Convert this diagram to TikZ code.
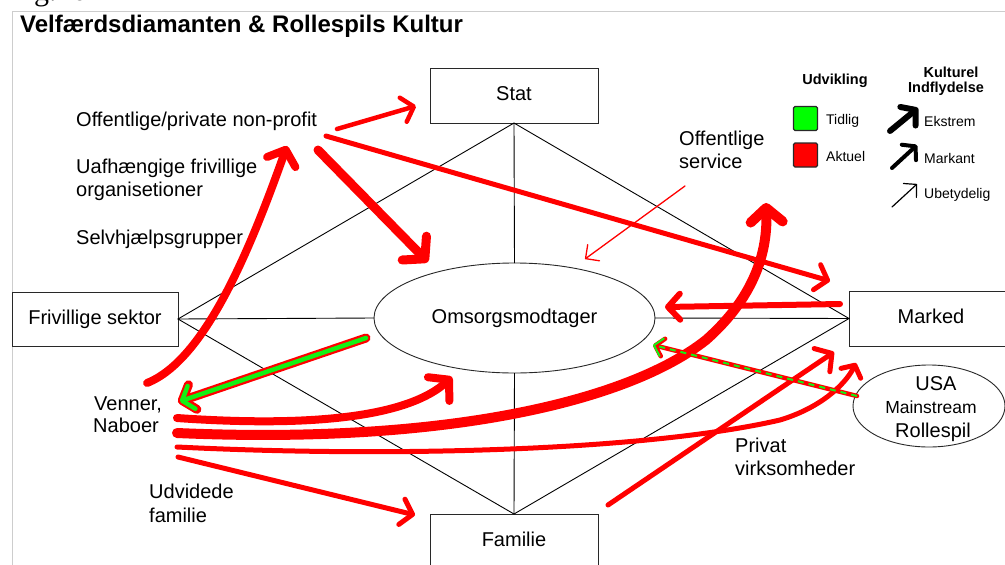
\documentclass[tikz,border=0pt]{standalone}
\usepackage{fontspec}
\setmainfont{Liberation Sans}
\newfontfamily\figserif{Liberation Serif}
\usetikzlibrary{arrows.meta,shapes.geometric,calc}

\definecolor{vred}{RGB}{255,0,0}
\definecolor{vgreen}{RGB}{20,240,20}
\definecolor{sqgreen}{RGB}{0,255,0}
\definecolor{framegray}{RGB}{205,205,205}
\definecolor{edge}{RGB}{40,40,40}

\begin{document}
\begin{tikzpicture}[x=1pt,y=-1pt,
  box/.style={draw=edge, line width=1pt, minimum width=168pt, minimum height=55pt,
    inner sep=0pt, outer sep=0pt, font=\fontsize{20}{24}\selectfont,
    text height=14pt, text depth=4pt},
  oval/.style={draw=edge, line width=0.9pt, ellipse, inner sep=0pt, outer sep=0pt},
  diag/.style={draw=black, line width=0.9pt},
  lbl/.style={anchor=base west, inner sep=0pt, font=\fontsize{20}{24}\selectfont},
  leg/.style={anchor=base west, inner sep=0pt, font=\fontsize{14}{17}\selectfont},
  legb/.style={anchor=base, inner sep=0pt, font=\fontsize{14.5}{17}\selectfont\bfseries},
  flow/.style args={#1/#2/#3}{draw=vred, line width=#1pt, line cap=round, line join=round,
    -{Straight Barb[length=#2pt, width=#3pt, round]}},
  flowk/.style args={#1/#2/#3}{draw=black, line width=#1pt, line cap=round, line join=round,
    -{Straight Barb[length=#2pt, width=#3pt, round]}},
  swatch/.style={draw=edge, line width=1.2pt, rounded corners=1.5pt,
    minimum width=24pt, minimum height=24pt, inner sep=0pt},
]
\useasboundingbox (0,0) rectangle (1005,565);
\clip (0,0) rectangle (1005,565);
\fill[white] (0,0) rectangle (1005,565);

% page frame and caption above it
\node[anchor=base west, inner sep=0pt, font=\figserif\fontsize{30}{30}\selectfont] (fig) at (9,0) {Fig.26};
\draw[framegray, line width=1pt] (1010,11) -- (12,11) -- (12,570);

% title
\node[anchor=base west, inner sep=0pt, font=\fontsize{24}{28}\selectfont\bfseries] (title) at (20,32)
  {Velfærdsdiamanten \& Rollespils Kultur};

% the four sectors and the care receiver
\node[box] (stat) at (514,95.5) {Stat};
\node[box, minimum width=166pt, minimum height=54pt] (friv) at (95,319) {Frivillige sektor};
\node[box, minimum width=164pt] (marked) at (931,318.5) {Marked};
\node[box] (familie) at (514,541.5) {Familie};
\node[oval, minimum width=281pt, minimum height=110pt, font=\fontsize{20}{24}\selectfont,
  text height=14pt, text depth=4pt] (omsorg) at (514.5,318) {Omsorgsmodtager};
\node[oval, minimum width=152pt, minimum height=82pt] (usa) at (929,406) {};
\node[anchor=base, inner sep=0pt, font=\fontsize{20}{24}\selectfont] (usa1) at (936,390) {USA};
\node[anchor=base, inner sep=0pt, font=\fontsize{17.5}{20}\selectfont] (usa2) at (931,413) {Mainstream};
\node[anchor=base, inner sep=0pt, font=\fontsize{20}{24}\selectfont] (usa3) at (933,437) {Rollespil};

% diamond
\draw[diag] (friv.east) -- (stat.south) -- (marked.west) -- (familie.north) -- cycle;
\draw[diag] (stat.south) -- (omsorg.north);
\draw[diag] (omsorg.south) -- (familie.north);
\draw[diag] (friv.east) -- (omsorg.west);
\draw[diag] (omsorg.east) -- (marked.west);

% sector labels
\node[lbl] (offpriv) at (76,126) {Offentlige/private non-profit};
\node[lbl] (uafh1) at (76,173) {Uafhængige frivillige};
\node[lbl] (uafh2) at (76,196) {organisetioner};
\node[lbl] (selvh) at (76,244) {Selvhjælpsgrupper};
\node[lbl] (venner1) at (94,410) {Venner,};
\node[lbl] (venner2) at (93,432) {Naboer};
\node[lbl] (udv1) at (149,498) {Udvidede};
\node[lbl] (udv2) at (149,522) {familie};
\node[lbl] (offserv1) at (679,145) {Offentlige};
\node[lbl] (offserv2) at (679,168) {service};
\node[lbl] (privat1) at (735,452) {Privat};
\node[lbl] (privat2) at (735,475) {virksomheder};

% legend
\node[legb] (udvikling) at (835,84) {Udvikling};
\node[swatch, fill=sqgreen] (sqtidlig) at (805.5,118.5) {};
\node[swatch, fill=vred] (sqaktuel) at (805.5,155) {};
\node[leg] (tidlig) at (826,124) {Tidlig};
\node[leg] (aktuel) at (826,161) {Aktuel};
\node[legb] (kulturel) at (951,77) {Kulturel};
\node[legb] (indfl) at (946,92) {Indflydelse};
\node[leg] (ekstrem) at (924,126) {Ekstrem};
\node[leg] (markant) at (924,163) {Markant};
\node[leg] (ubet) at (924,198) {Ubetydelig};
\coordinate (ek-s) at (890,131);  \coordinate (ek-e) at (918,108);
\coordinate (ma-s) at (892,168);  \coordinate (ma-e) at (917,145);
\coordinate (ub-s) at (892,207);  \coordinate (ub-e) at (917,184);
\draw[flowk=6/10/24] (ek-s) -- (ek-e);
\draw[flowk=4/9/21] (ma-s) -- (ma-e);
\draw[flowk=1.2/9/19] (ub-s) -- (ub-e);

% connector end points
\coordinate (np-stat-s) at (337,129);  \coordinate (np-stat-e) at (416,106);
\coordinate (np-mkt-s)  at (326,136);  \coordinate (np-mkt-e)  at (830,281);
\coordinate (np-oms-s)  at (318,150);  \coordinate (np-oms-e)  at (428,262);
\coordinate (vn-np-s)   at (147,383);  \coordinate (vn-np-e)   at (287,146);
\coordinate (oms-vn-s)  at (366,338);  \coordinate (oms-vn-e)  at (178,402);
\coordinate (vn-oms-s)  at (177,418);  \coordinate (vn-oms-e)  at (452,377);
\coordinate (vn-srv-s)  at (177,433);  \coordinate (vn-srv-m)  at (706,340);
\coordinate (vn-srv-e)  at (766,203);
\coordinate (vn-mkt-s)  at (177,447);  \coordinate (vn-mkt-m)  at (780,420);
\coordinate (vn-mkt-e)  at (856,363);
\coordinate (vn-fam-s)  at (178,457);  \coordinate (vn-fam-e)  at (415,515);
\coordinate (pv-mkt-s)  at (608,505);  \coordinate (pv-mkt-e)  at (834,352);
\coordinate (mkt-oms-s) at (840,304);  \coordinate (mkt-oms-e) at (665,307);
\coordinate (usa-oms-s) at (857,396);  \coordinate (usa-oms-e) at (653,345);
\coordinate (srv-oms-s) at (685,186);  \coordinate (srv-oms-e) at (585,259);

% influence arrows
\draw[flow=1.3/10/20] (srv-oms-s) -- (srv-oms-e);
\draw[flow=4.5/11/25] (np-stat-s) -- (np-stat-e);
\draw[flow=5/11/26] (np-mkt-s) -- (np-mkt-e);
\draw[flow=9/15/34] (np-oms-s) -- (np-oms-e);
\draw[flow=8/13/30] (vn-np-s) .. controls (205,360) and (250,250) .. (vn-np-e);
\draw[flow=8/14/32] (vn-oms-s) .. controls (320,428) and (410,415) .. (vn-oms-e);
\draw[flow=10/14/32] (vn-srv-s) .. controls (450,445) and (630,400) .. (vn-srv-m)
  .. controls (748,303) and (768,260) .. (vn-srv-e);
\draw[flow=5/9/22] (vn-mkt-s) .. controls (400,458) and (650,450) .. (vn-mkt-m)
  .. controls (820,408) and (845,385) .. (vn-mkt-e);
\draw[flow=5/11/26] (vn-fam-s) -- (vn-fam-e);
\draw[flow=5/12/28] (pv-mkt-s) -- (pv-mkt-e);
\draw[flow=6/12/26] (mkt-oms-s) -- (mkt-oms-e);

% early development: green with red rim
\draw[flow=9/11/26] (oms-vn-s) -- (oms-vn-e);
\draw[flow=4.5/10/24, draw=vgreen] (oms-vn-s) -- ($(oms-vn-e)!2pt!(oms-vn-s)$);

% early and current together: red line with green dashes
\draw[flow=4.5/8/18] (usa-oms-s) -- (usa-oms-e);
\draw[flow=2/8/18, draw=vgreen, dash pattern=on 6pt off 5pt, line cap=butt]
  (usa-oms-s) -- (usa-oms-e);
\end{tikzpicture}
\end{document}
